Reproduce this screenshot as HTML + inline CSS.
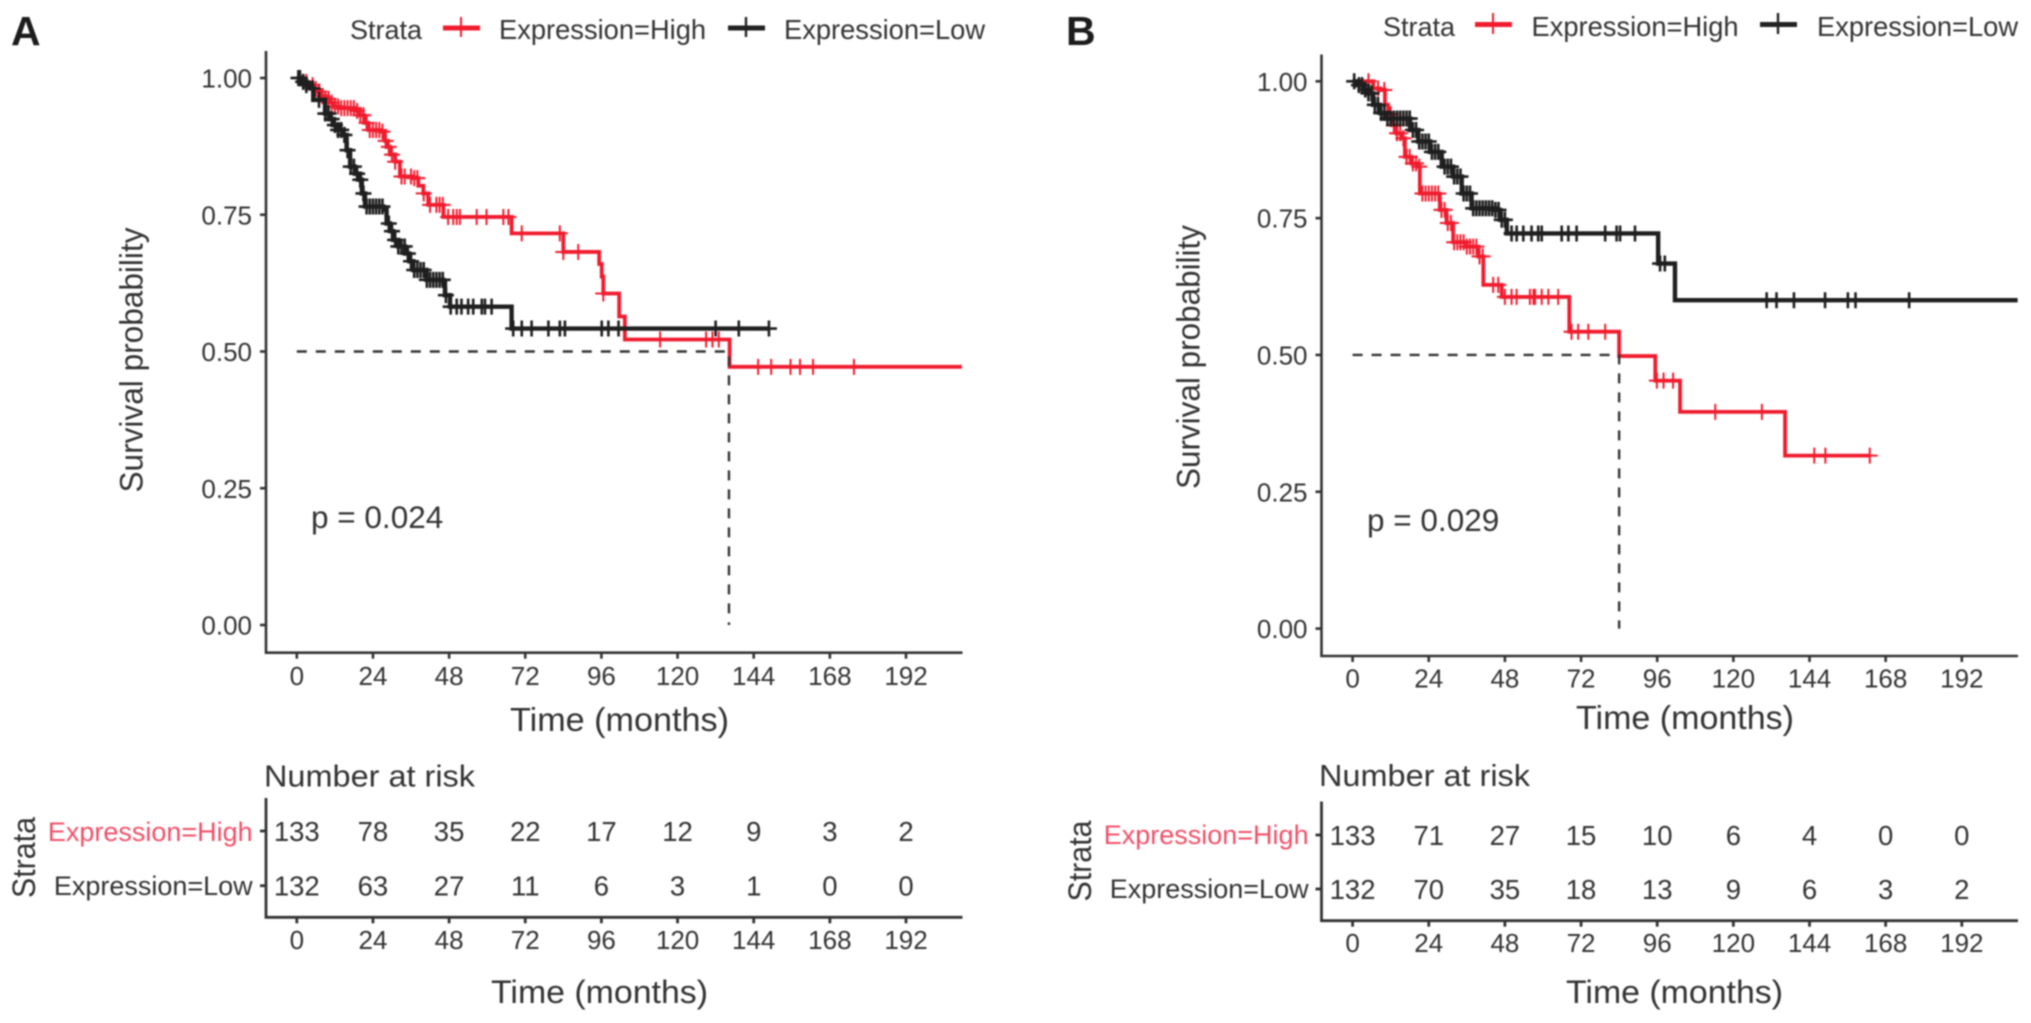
<!DOCTYPE html>
<html lang="en">
<head>
<meta charset="utf-8">
<title>Kaplan-Meier survival curves</title>
<style>
html,body{margin:0;padding:0;background:#fff;width:2031px;height:1023px;overflow:hidden}
svg{display:block;filter:blur(.8px)}
text{font-family:"Liberation Sans",Arial,sans-serif;fill:#333}
</style>
</head>
<body>
<svg id="figure" xmlns="http://www.w3.org/2000/svg" width="2031" height="1023" viewBox="0 0 2031 1023">
  <rect width="2031" height="1023" fill="#fff"/>
  <g id="panel-a">
    <text x="11" y="45" font-size="41" font-weight="bold" style="fill:#1c1c1c">A</text>
    <g>
      <text x="350" y="39" font-size="27">Strata</text>
      <g stroke="#f01c2e"><line x1="443" x2="480" y1="28" y2="28" stroke-width="5"/><line x1="461" x2="461" y1="17" y2="37" stroke-width="2"/></g>
      <text x="499" y="39" font-size="27.3">Expression=High</text>
      <g stroke="#222"><line x1="728" x2="765" y1="28" y2="28" stroke-width="5"/><line x1="746" x2="746" y1="17" y2="37" stroke-width="2.4"/></g>
      <text x="784" y="39" font-size="27.3">Expression=Low</text>
    </g>
    <text transform="translate(142.5,360) rotate(-90)" text-anchor="middle" font-size="32" textLength="265" lengthAdjust="spacingAndGlyphs">Survival probability</text>
    <text x="510" y="731" font-size="33" textLength="219" lengthAdjust="spacingAndGlyphs">Time (months)</text>
    <text x="311" y="528" font-size="31.5">p = 0.024</text>
    <text x="264" y="786.5" font-size="31" textLength="211" lengthAdjust="spacingAndGlyphs">Number at risk</text>
    <text transform="translate(35,857.5) rotate(-90)" text-anchor="middle" font-size="32" textLength="81" lengthAdjust="spacingAndGlyphs">Strata</text>
    <text x="252.7" y="841" text-anchor="end" font-size="27" style="fill:#ef5068">Expression=High</text>
    <text x="252.7" y="895" text-anchor="end" font-size="27">Expression=Low</text>
    <text x="491" y="1003" font-size="32" textLength="217" lengthAdjust="spacingAndGlyphs">Time (months)</text>
  </g>
  <g id="panel-b">
    <text x="1066" y="45" font-size="41" font-weight="bold" style="fill:#1c1c1c">B</text>
    <g>
      <text x="1383" y="36" font-size="27">Strata</text>
      <g stroke="#f01c2e"><line x1="1475" x2="1512" y1="24.5" y2="24.5" stroke-width="5"/><line x1="1493" x2="1493" y1="13" y2="34" stroke-width="2"/></g>
      <text x="1531.5" y="36" font-size="27.3">Expression=High</text>
      <g stroke="#222"><line x1="1760" x2="1797" y1="24.5" y2="24.5" stroke-width="5"/><line x1="1778" x2="1778" y1="13" y2="34" stroke-width="2.4"/></g>
      <text x="1817" y="36" font-size="27.3">Expression=Low</text>
    </g>
    <text transform="translate(1199.5,357) rotate(-90)" text-anchor="middle" font-size="32" textLength="264" lengthAdjust="spacingAndGlyphs">Survival probability</text>
    <text x="1576" y="729" font-size="33" textLength="218" lengthAdjust="spacingAndGlyphs">Time (months)</text>
    <text x="1367" y="531" font-size="31.5">p = 0.029</text>
    <text x="1319" y="786" font-size="31" textLength="211" lengthAdjust="spacingAndGlyphs">Number at risk</text>
    <text transform="translate(1091,861) rotate(-90)" text-anchor="middle" font-size="32" textLength="81" lengthAdjust="spacingAndGlyphs">Strata</text>
    <text x="1308.6" y="844" text-anchor="end" font-size="27" style="fill:#ef5068">Expression=High</text>
    <text x="1308.6" y="898" text-anchor="end" font-size="27">Expression=Low</text>
    <text x="1566" y="1003" font-size="32" textLength="217" lengthAdjust="spacingAndGlyphs">Time (months)</text>
  </g>
</svg>
<script>
// Shared axis values
const timeTicks = [0, 24, 48, 72, 96, 120, 144, 168, 192];
const survivalTicks = [0, 0.25, 0.5, 0.75, 1];
const survivalTickLabels = ["0.00", "0.25", "0.50", "0.75", "1.00"];

// Panel A – Expression=High
const aHighTimes = [2, 3.5, 5.2, 6.5, 7.8, 9, 10.5, 11.8, 13.1, 18.3, 19.9, 21.2, 22.5, 26.7, 27.8, 28.6, 29.4, 31, 32.5, 36.7, 38.3, 39.9, 41.4, 46.2, 67.7, 84, 95.3, 96.1, 96.6, 101.6, 103.4, 136.4, 209.6];
const aHighSurvival = [0.993, 0.987, 0.98, 0.975, 0.967, 0.962, 0.955, 0.948, 0.945, 0.94, 0.932, 0.918, 0.905, 0.902, 0.885, 0.874, 0.86, 0.847, 0.82, 0.817, 0.803, 0.789, 0.768, 0.746, 0.716, 0.682, 0.66, 0.637, 0.606, 0.564, 0.522, 0.472, 0.472];
const aHighCensored = [1, 3, 5, 6, 7, 8, 9, 10, 11, 12, 13, 14, 15, 16, 17, 18, 19, 20, 21, 22, 23, 24, 25, 26, 27, 28, 29, 30, 31, 33, 34, 36, 37, 38, 40, 42, 44, 45, 46, 47.7, 49.3, 50.4, 51.4, 56.7, 59.8, 65.1, 66.7, 70.9, 82.9, 84, 88.7, 96.6, 114.5, 129, 131, 133, 145.4, 149.5, 155.6, 158.6, 162.7, 175.6];

// Panel A – Expression=Low
const aLowTimes = [1.5, 3, 4.2, 5.2, 8.9, 10.2, 11.5, 13, 14.7, 15.7, 16.8, 18.3, 19.9, 20.5, 21.5, 27.3, 28.3, 29.4, 30.4, 32, 34.1, 35.5, 36.7, 40.9, 46.2, 46.7, 48.3, 67.7, 148.8];
const aLowSurvival = [0.993, 0.987, 0.981, 0.96, 0.935, 0.925, 0.914, 0.905, 0.896, 0.868, 0.838, 0.825, 0.814, 0.789, 0.765, 0.759, 0.734, 0.72, 0.704, 0.692, 0.679, 0.665, 0.649, 0.631, 0.625, 0.603, 0.582, 0.542, 0.542];
const aLowCensored = [0.5, 1, 2, 3, 5, 7, 9, 10, 11, 12, 13, 14, 15, 16, 17, 18, 19, 20, 21, 22, 23, 24, 25, 26, 27, 29, 30, 31, 32, 33, 34, 35, 36, 37, 38, 39, 40, 41, 42, 43, 44, 45, 46, 47, 48.5, 50.4, 51.9, 54, 55.6, 58.3, 59.3, 61.4, 68.2, 70.9, 74, 79.3, 82.9, 84.5, 96.1, 98.2, 101.4, 132, 139.3, 148.8];
const aMedian = 136.2;

// Panel A – number at risk
const aRiskHigh = [133, 78, 35, 22, 17, 12, 9, 3, 2];
const aRiskLow = [132, 63, 27, 11, 6, 3, 1, 0, 0];

// Panel B – Expression=High
const bHighTimes = [6.5, 8.6, 10.2, 11.2, 12.3, 13.8, 15.4, 16.5, 18.5, 20.7, 21.2, 27.5, 29.6, 31.7, 35.9, 39.6, 41.2, 47, 68.3, 84, 95.4, 103.2, 136.3, 163];
const bHighSurvival = [0.987, 0.984, 0.957, 0.94, 0.92, 0.905, 0.896, 0.862, 0.85, 0.844, 0.795, 0.765, 0.741, 0.706, 0.698, 0.68, 0.628, 0.606, 0.5425, 0.498, 0.453, 0.396, 0.316, 0.316];
const bHighCensored = [5, 8, 10, 12, 13, 14, 15, 16, 17, 18, 19, 20, 21, 22, 23, 24, 25, 26, 27, 28, 29, 30, 31, 32, 33, 34, 35, 36, 37, 38, 39, 40, 41, 44.3, 45.9, 48, 50.1, 51.7, 55.9, 57, 57.5, 59.6, 61.7, 64.8, 69, 71.1, 74.3, 79.6, 95.9, 98, 101, 114.3, 129, 145.5, 149, 163];

// Panel B – Expression=Low
const bLowTimes = [1.5, 3.4, 5, 6.5, 8.6, 10.2, 18.1, 20.7, 24.4, 28.1, 31.7, 34.4, 37.5, 44.9, 46.5, 48.6, 96.3, 101.6, 209.6];
const bLowSurvival = [0.993, 0.985, 0.978, 0.957, 0.942, 0.932, 0.911, 0.89, 0.871, 0.844, 0.826, 0.795, 0.768, 0.765, 0.747, 0.722, 0.667, 0.6, 0.6];
const bLowCensored = [0.5, 2, 3, 4, 5, 6, 7, 8, 9, 10, 11, 12, 13, 14, 15, 16, 17, 18, 19, 20, 21, 22, 23, 24, 25, 26, 27, 29, 30, 31, 32, 33, 34, 35, 36, 37, 38, 39, 40, 41, 42, 43, 44, 45, 46, 47, 48, 50.1, 51.7, 53.8, 56.4, 58.5, 59.6, 65.9, 68, 70.6, 79.6, 83.2, 84.3, 89, 96.9, 98.4, 130.5, 133.6, 139.1, 148.9, 156.1, 158.5, 175.4];
const bMedian = 84;

// Panel B – number at risk
const bRiskHigh = [133, 71, 27, 15, 10, 6, 4, 0, 0];
const bRiskLow = [132, 70, 35, 18, 13, 9, 6, 3, 2];

const NS = "http://www.w3.org/2000/svg";
const RED = "#f01c2e";
const DARK = "#1f1f1f";
const AXIS = "#333333";

function mk(parent, tag, attrs, label) {
  const el = document.createElementNS(NS, tag);
  for (const k in attrs) el.setAttribute(k, attrs[k]);
  if (label !== undefined) el.textContent = label;
  parent.appendChild(el);
  return el;
}

function survivalAt(times, surv, t) {
  let s = 1;
  for (let i = 0; i < times.length; i++) {
    if (times[i] <= t) s = surv[i];
  }
  return s;
}

function drawCurve(root, sx, sy, times, surv, censored, color, width, markWidth, name) {
  const g = mk(root, "g", {});
  
  
  let d = "M" + sx(0) + " " + sy(1);
  for (let i = 0; i < times.length; i++) {
    d += "H" + sx(times[i]) + "V" + sy(surv[i]);
  }
  const line = mk(g, "path", { d: d, fill: "none", stroke: color, "stroke-width": width, "stroke-linejoin": "miter" });
  
  
  censored.forEach(function (t) {
    const cx = sx(t);
    const cy = sy(survivalAt(times, surv, t));
    const mark = mk(g, "path", { d: "M" + (cx - 8) + " " + cy + "H" + (cx + 8) + "M" + cx + " " + (cy - 8) + "V" + (cy + 8), fill: "none", stroke: color, "stroke-width": markWidth });
    
    
  });
}

function drawPanel(root, L, series) {
  const sx = function (t) { return L.x0 + t * L.kx; };
  const sy = function (s) { return L.y0 - s * L.ky; };

  // Main axes
  const axes = mk(root, "g", { stroke: AXIS, "stroke-width": 2.6, fill: "none" });
  
  
  mk(axes, "path", { d: "M" + L.axisX + " " + L.axisTop + "V" + L.axisBottom + "H" + L.axisRight });

  survivalTicks.forEach(function (v, i) {
    const y = sy(v);
    const tick = mk(axes, "line", { x1: L.axisX - 6, x2: L.axisX, y1: y, y2: y });
    
    
    const lab = mk(root, "text", { x: L.axisX - 14, y: y + 9.5, "text-anchor": "end", "font-size": 26 }, survivalTickLabels[i]);
    
    
  });
  timeTicks.forEach(function (v) {
    const x = sx(v);
    const tick = mk(axes, "line", { x1: x, x2: x, y1: L.axisBottom, y2: L.axisBottom + 6 });
    
    
    const lab = mk(root, "text", { x: x, y: L.xLabelY, "text-anchor": "middle", "font-size": 26 }, String(v));
    
    
  });

  // Series
  series.curves.forEach(function (c) {
    drawCurve(root, sx, sy, c.times, c.surv, c.censored, c.color, c.width, c.markWidth, c.name);
  });

  // Median guide lines
  const guide = mk(root, "path", {
    d: "M" + sx(0) + " " + sy(0.5) + "H" + sx(series.median) + "V" + sy(0),
    fill: "none", stroke: "#333", "stroke-width": 2.4, "stroke-dasharray": "10 9"
  });
  
  

  // Risk table
  const rAxes = mk(root, "g", { stroke: AXIS, "stroke-width": 2.8, fill: "none" });
  
  
  mk(rAxes, "path", { d: "M" + L.axisX + " " + L.riskTop + "V" + L.riskBottom + "H" + L.axisRight });
  [L.rowHigh, L.rowLow].forEach(function (y) {
    const t = mk(rAxes, "line", { x1: L.axisX - 6, x2: L.axisX, y1: y, y2: y });
    
    
  });
  timeTicks.forEach(function (v, i) {
    const x = sx(v);
    const tick = mk(rAxes, "line", { x1: x, x2: x, y1: L.riskBottom, y2: L.riskBottom + 6 });
    
    
    const lab = mk(root, "text", { x: x, y: L.riskLabelY, "text-anchor": "middle", "font-size": 26 }, String(v));
    
    
    const hi = mk(root, "text", { x: x, y: L.rowHigh + 10, "text-anchor": "middle", "font-size": 27.5 }, String(series.riskHigh[i]));
    
    
    const lo = mk(root, "text", { x: x, y: L.rowLow + 10, "text-anchor": "middle", "font-size": 27.5 }, String(series.riskLow[i]));
    
    
  });
}

drawPanel(document.getElementById("panel-a"),
  { x0: 296.8, kx: 3.173, y0: 625, ky: 547, axisX: 266, axisTop: 51, axisBottom: 652.7, axisRight: 962.5, xLabelY: 685, riskTop: 798, riskBottom: 917.3, rowHigh: 831, rowLow: 885.7, riskLabelY: 949 },
  {
    median: aMedian, riskHigh: aRiskHigh, riskLow: aRiskLow,
    curves: [
      { times: aHighTimes, surv: aHighSurvival, censored: aHighCensored, color: RED, width: 3.8, markWidth: 2, name: "curve-expression-high" },
      { times: aLowTimes, surv: aLowSurvival, censored: aLowCensored, color: DARK, width: 4.4, markWidth: 2.6, name: "curve-expression-low" }
    ]
  });

drawPanel(document.getElementById("panel-b"),
  { x0: 1352.6, kx: 3.173, y0: 628.6, ky: 547.3, axisX: 1321.5, axisTop: 54.5, axisBottom: 656, axisRight: 2018, xLabelY: 687.5, riskTop: 801.5, riskBottom: 920.7, rowHigh: 835, rowLow: 889, riskLabelY: 952 },
  {
    median: bMedian, riskHigh: bRiskHigh, riskLow: bRiskLow,
    curves: [
      { times: bHighTimes, surv: bHighSurvival, censored: bHighCensored, color: RED, width: 3.8, markWidth: 2, name: "curve-expression-high" },
      { times: bLowTimes, surv: bLowSurvival, censored: bLowCensored, color: DARK, width: 4.4, markWidth: 2.6, name: "curve-expression-low" }
    ]
  });
</script>
</body>
</html>
